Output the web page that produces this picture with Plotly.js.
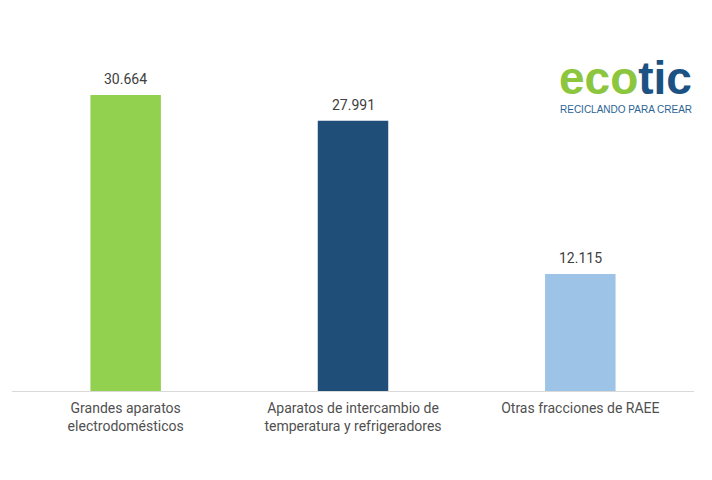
<!DOCTYPE html>
<html><head><meta charset="utf-8">
<script src="https://cdn.plot.ly/plotly-3.0.1.min.js"></script>
<style>body{margin:0;background:#fff}#c{width:712px;height:480px}</style>
</head><body><div id="c"></div>
<script>
const categories = ["Grandes aparatos<br>electrodomésticos", "Aparatos de intercambio de<br>temperatura y refrigeradores", "Otras fracciones de RAEE"];
const values = [30664, 27991, 12115];
const valueLabels = ["30.664", "27.991", "12.115"];
const colors = ["#92d050", "#1f4e79", "#9dc3e6"];

const trace = {
  type: "bar", x: categories, y: values,
  marker: {color: colors},
  width: 0.31,
  hoverinfo: "none"
};
const valueAnns = categories.map((c, i) => ({
  x: c, y: values[i], xref: "x", yref: "y", text: valueLabels[i],
  showarrow: false, yanchor: "bottom", yshift: 6,
  font: {family: "Roboto", size: 14, color: "#404040"}
}));
const layout = {
  width: 712, height: 480,
  margin: {l: 12, r: 18, t: 20, b: 89},
  paper_bgcolor: "#fff", plot_bgcolor: "#fff",
  showlegend: false,
  xaxis: {showline: true, linecolor: "#d9d9d9", linewidth: 1, ticks: "", showgrid: false,
          ticklabelstandoff: 4,
          tickfont: {family: "Roboto", size: 14, color: "#505050"}},
  yaxis: {range: [0, 38434], visible: false, showgrid: false, zeroline: false},
  annotations: valueAnns.concat([
    {xref: "paper", yref: "paper", x: 1.0, y: 0.768, xanchor: "right", yanchor: "bottom",
     text: '<b><span style="color:#8cc63f">eco</span><span style="color:#1b5283">tic</span></b>',
     showarrow: false, font: {family: "Liberation Sans", size: 46}},
    {xref: "paper", yref: "paper", x: 1.0, y: 0.7385, xanchor: "right", yanchor: "bottom",
     text: "RECICLANDO PARA CREAR", showarrow: false,
     font: {family: "Liberation Sans", size: 10, color: "#2a6496"}}
  ])
};
Plotly.newPlot("c", [trace], layout, {displayModeBar: false, staticPlot: true});
</script></body></html>
